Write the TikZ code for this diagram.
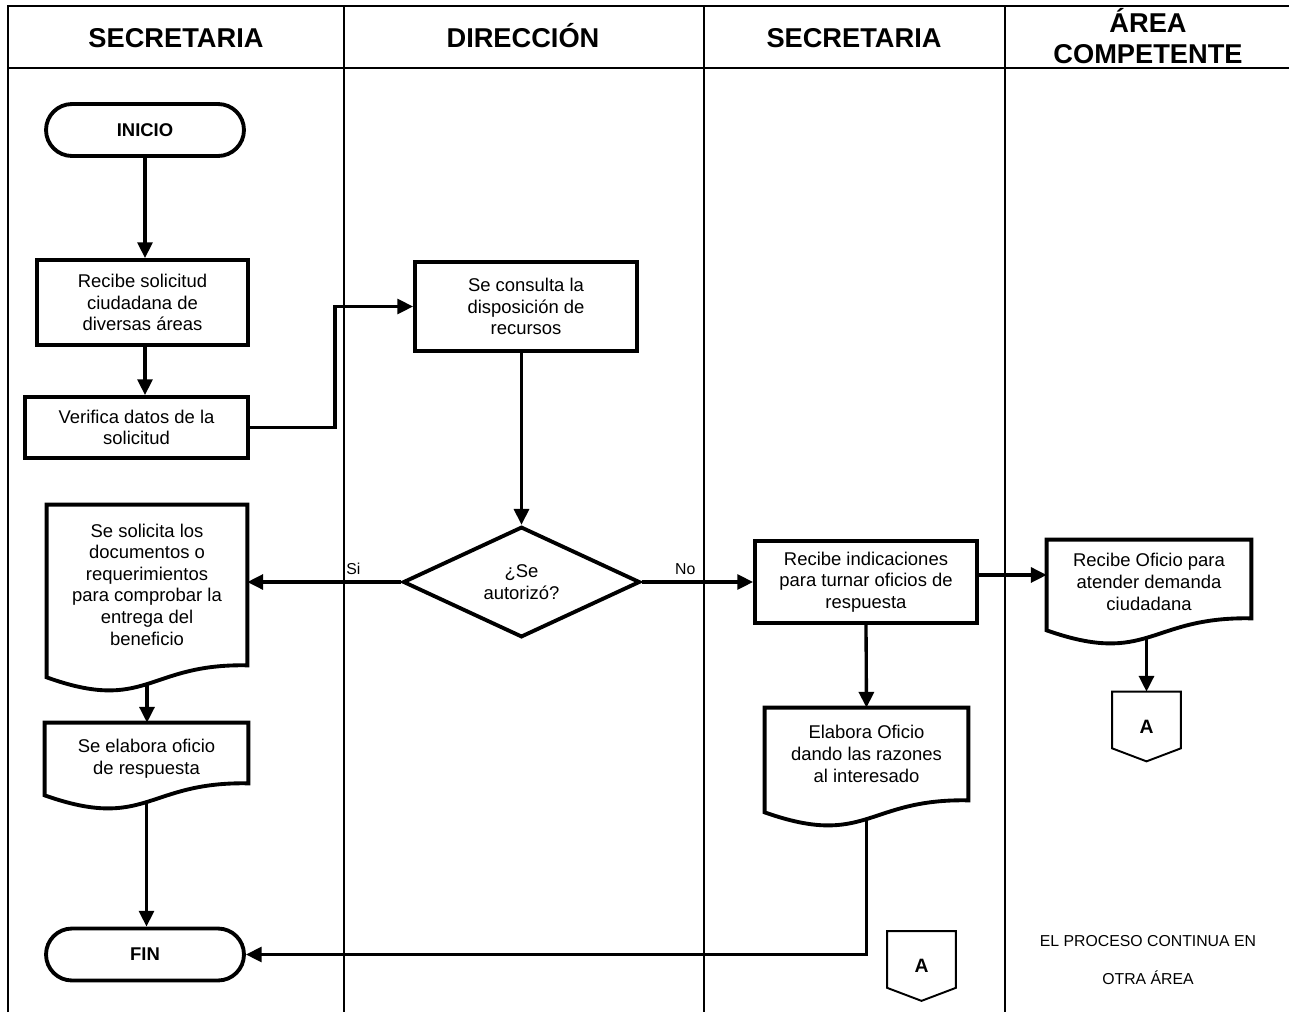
\documentclass[tikz,border=0pt]{standalone}
\usepackage{fontspec}
\setmainfont{Liberation Sans}
\usetikzlibrary{shapes.geometric,shapes.misc,arrows.meta,calc}
\newcommand\docshape[2]{%
 \draw[docline] ($(#1.south west)+(0,#2)$) -- (#1.north west) -- (#1.north east) -- ($(#1.south east)+(0,#2-12)$) .. controls ($(#1.south)+(0,#2-14)$) and ($(#1.south)+(0,#2+36)$) .. ($(#1.south west)+(0,#2)$) -- cycle;
 \coordinate (#1-b) at ($(#1.south)+(0,#2+7)$);}
\newcommand\offpage[1]{%
 \draw[line width=1.1pt, line join=miter] (#1.north west) -- (#1.north east) -- ($(#1.south east)+(0,-13)$) -- (#1.south) -- ($(#1.south west)+(0,-13)$) -- cycle;}
\begin{document}
\begin{tikzpicture}[x=0.02cm,y=-0.02cm,
  lane/.style={line width=1.1pt},
  hdr/.style={font=\fontsize{15.5}{17.6}\selectfont\bfseries, align=center, inner sep=0pt},
  txt/.style={font=\fontsize{10.5}{12.3}\selectfont, align=center},
  proc/.style={txt, rectangle, draw, line width=2.2pt, inner sep=0pt},
  term/.style={font=\fontsize{10.5}{12.3}\selectfont\bfseries, rounded rectangle, draw, line width=2.2pt, minimum width=3.96cm, minimum height=1.04cm, inner sep=0pt},
  docnode/.style={txt, rectangle, inner sep=0pt},
  docline/.style={line width=2.2pt, line join=miter},
  dec/.style={txt, diamond, draw, line width=2.2pt, inner sep=0pt, minimum width=4.74cm, minimum height=2.16cm},
  offp/.style={rectangle, inner sep=0pt, font=\fontsize{11}{13}\selectfont\bfseries, minimum width=1.36cm, minimum height=1.38cm},
  arr/.style={line width=1.9pt, -{Triangle[length=9pt,width=8.5pt]}},
  small/.style={font=\fontsize{9}{11}\selectfont}
]
\useasboundingbox (0,0) rectangle (1289,1012);
% frame and lanes
\draw[lane] (8,1012) -- (8,6) -- (1289,6);
\draw[lane] (8,68) -- (1289,68);
\draw[lane] (344,6) -- (344,1012);
\draw[lane] (704,6) -- (704,1012);
\draw[lane] (1005,6) -- (1005,1012);
% headers
\node[hdr, anchor=base] (h1) at (176,47) {SECRETARIA};
\node[hdr, anchor=base] (h2) at (523,47) {DIRECCIÓN};
\node[hdr, anchor=base] (h3) at (854,47) {SECRETARIA};
\node[hdr] (h4) at (1148,36) {ÁREA\\COMPETENTE};
% nodes
\node[term] (inicio) at (145,130) {INICIO};
\node[proc, minimum width=4.22cm, minimum height=1.7cm] (recibe) at (142.5,302.5) {Recibe solicitud\\ciudadana de\\diversas áreas};
\node[proc, minimum width=4.46cm, minimum height=1.22cm] (verifica) at (136.5,427.5) {Verifica datos de la\\solicitud};
\node[proc, minimum width=4.44cm, minimum height=1.78cm] (consulta) at (526,306.5) {Se consulta la\\disposición de\\recursos};
\node[dec] (autoriza) at (521.5,582) {¿Se\\autorizó?};
\node[docnode, minimum width=4cm, minimum height=3.18cm] (solicita) at (147,584.5) {Se solicita los\\documentos o\\requerimientos\\para comprobar la\\entrega del\\beneficio};
\docshape{solicita}{13}
\node[docnode, minimum width=4.06cm, minimum height=1.42cm] (oficio) at (146.5,758.5) {Se elabora oficio\\de respuesta};
\docshape{oficio}{1}
\node[term] (fin) at (145,954.5) {FIN};
\node[proc, minimum width=4.44cm, minimum height=1.64cm] (indic) at (866,582) {Recibe indicaciones\\para turnar oficios de\\respuesta};
\node[docnode, minimum width=4.06cm, minimum height=1.84cm] (razones) at (866.5,754) {Elabora Oficio\\dando las razones\\al interesado};
\docshape{razones}{12}
\node[docnode, minimum width=4.08cm, minimum height=1.68cm] (ofrec) at (1149,582) {Recibe Oficio para\\atender demanda\\ciudadana};
\docshape{ofrec}{6}
\node[offp] (conA) at (1146.5,726.5) {A};
\offpage{conA}
\node[offp] (conB) at (921.5,966) {A};
\offpage{conB}
\node[font=\fontsize{9}{22}\selectfont, align=center] (nota) at (1148,960) {EL PROCESO CONTINUA EN\\OTRA ÁREA};
% connectors
\draw[arr] (inicio.south) -- (inicio.south |- recibe.north);
\draw[arr] (inicio.south |- recibe.south) -- (inicio.south |- verifica.north);
\draw[arr] (verifica.east) -- ++(85,0) |- (consulta.west);
\draw[arr] (autoriza.north |- consulta.south) -- (autoriza.north);
\draw[arr] (autoriza.west) -- (solicita.east |- autoriza.west) node[small, pos=0.31, above, inner sep=3pt] (si) {Si};
\draw[arr] (autoriza.east) -- (indic.west) node[small, pos=0.39, above, inner sep=3pt] (no) {No};
\draw[arr] (solicita-b) -- (oficio.north -| solicita-b);
\draw[arr] (oficio-b) -- (fin.north -| oficio-b);
\draw[arr] (indic.south) -- (razones.north);
\draw[arr] (razones-b) |- (fin.east);
\draw[arr] ([yshift=4pt]indic.east) -- ([yshift=4pt]indic.east -| ofrec.west);
\draw[arr] (ofrec-b -| conA.north) -- (conA.north);
\end{tikzpicture}
\end{document}
